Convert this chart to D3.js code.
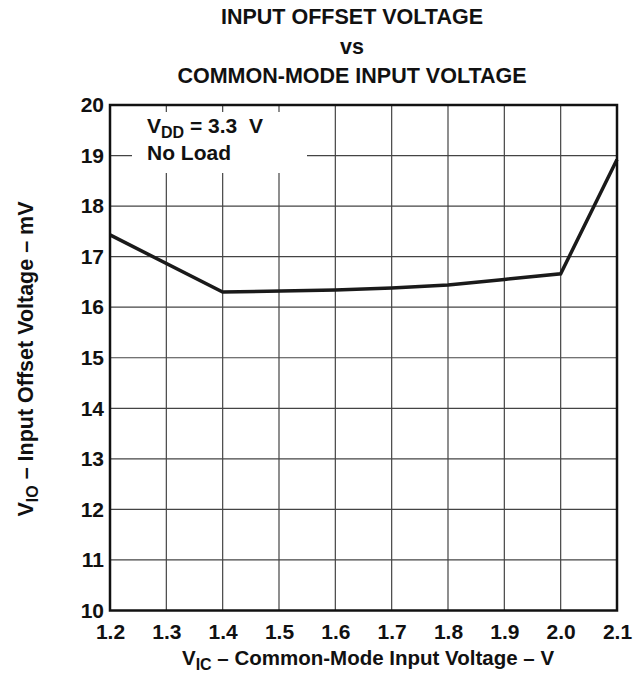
<!DOCTYPE html>
<html>
<head>
<meta charset="utf-8">
<script src="https://cdn.jsdelivr.net/npm/d3@7"></script>
<style>
  body { margin: 0; background: #fff; }
  text { font-family: "Liberation Sans", Arial, sans-serif; font-weight: bold; fill: #111; }
</style>
</head>
<body>
<svg id="chart"></svg>
<script>
// common-mode input voltage (V)
const vic = [1.2, 1.4, 1.6, 1.7, 1.8, 1.9, 2.0, 2.1];
// input offset voltage (mV)
const vio = [17.43, 16.3, 16.34, 16.38, 16.44, 16.55, 16.66, 18.92];

const xTicks = [1.2, 1.3, 1.4, 1.5, 1.6, 1.7, 1.8, 1.9, 2.0, 2.1];
const yTicks = [10, 11, 12, 13, 14, 15, 16, 17, 18, 19, 20];

const titleLines = ['INPUT OFFSET VOLTAGE', 'vs', 'COMMON-MODE INPUT VOLTAGE'];

const width = 644, height = 676;
const plotLeft = 110, plotRight = 617, plotTop = 105, plotBottom = 610.5;

const svg = d3.select('#chart')
    .attr('width', width)
    .attr('height', height);

const x = d3.scaleLinear().domain([1.2, 2.1]).range([plotLeft, plotRight]);
const y = d3.scaleLinear().domain([10, 20]).range([plotBottom, plotTop]);

// title
svg.append('g')
    .selectAll('text')
    .data(titleLines)
    .enter()
    .append('text')
    .attr('x', 352)
    .attr('y', (d, i) => 24 + i * 29.5)
    .attr('text-anchor', 'middle')
    .attr('font-size', '21.5px')
    .text(d => d);

// grid
const grid = svg.append('g')
    .attr('stroke', '#444')
    .attr('stroke-width', 1.2);

grid.selectAll('.vx')
    .data(xTicks.slice(1, -1))
    .enter()
    .append('line')
    .attr('x1', d => x(d)).attr('x2', d => x(d))
    .attr('y1', plotTop).attr('y2', plotBottom);

grid.selectAll('.hy')
    .data(yTicks.slice(1, -1))
    .enter()
    .append('line')
    .attr('x1', plotLeft).attr('x2', plotRight)
    .attr('y1', d => y(d)).attr('y2', d => y(d));

// legend box covers the grid
svg.append('rect')
    .attr('x', 132)
    .attr('y', 112)
    .attr('width', 175)
    .attr('height', 61)
    .attr('fill', '#fff');

const vdd = svg.append('text')
    .attr('x', 147)
    .attr('y', 133)
    .attr('font-size', '21px');
vdd.append('tspan').text('V');
vdd.append('tspan').attr('font-size', '16px').attr('dy', 5).text('DD');
vdd.append('tspan').attr('dy', -5).text(' = 3.3\u00a0\u00a0V');

svg.append('text')
    .attr('x', 147)
    .attr('y', 160)
    .attr('font-size', '21px')
    .text('No Load');

// curve
const line = d3.line()
    .x(d => x(d[0]))
    .y(d => y(d[1]));

svg.append('path')
    .datum(vic.map((v, i) => [v, vio[i]]))
    .attr('d', line)
    .attr('fill', 'none')
    .attr('stroke', '#1a1a1a')
    .attr('stroke-width', 3.5)
    .attr('stroke-linejoin', 'miter');

// frame
svg.append('rect')
    .attr('x', plotLeft)
    .attr('y', plotTop)
    .attr('width', plotRight - plotLeft)
    .attr('height', plotBottom - plotTop)
    .attr('fill', 'none')
    .attr('stroke', '#111')
    .attr('stroke-width', 2.5);

// axes labels
const xAxis = svg.append('g')
    .attr('transform', `translate(0,${plotBottom})`)
    .call(d3.axisBottom(x).tickValues(xTicks).tickSize(0).tickPadding(14).tickFormat(d3.format('.1f')));

const yAxis = svg.append('g')
    .attr('transform', `translate(${plotLeft},0)`)
    .call(d3.axisLeft(y).tickValues(yTicks).tickSize(0).tickPadding(6).tickFormat(d3.format('d')));

[xAxis, yAxis].forEach(a => {
    a.select('.domain').remove();
    a.attr('font-size', null).attr('font-family', null);
    a.selectAll('text')
        .attr('font-size', '21px')
        .attr('fill', '#111');
});

// x axis title
const xt = svg.append('text')
    .attr('x', 368)
    .attr('y', 665)
    .attr('text-anchor', 'middle')
    .attr('font-size', '20.5px');
xt.append('tspan').text('V');
xt.append('tspan').attr('font-size', '16px').attr('dy', 5).text('IC');
xt.append('tspan').attr('dy', -5).text(' \u2013 Common-Mode Input Voltage \u2013 V');

// y axis title
const yt = svg.append('text')
    .attr('transform', `translate(33,359) rotate(-90)`)
    .attr('text-anchor', 'middle')
    .attr('font-size', '21.5px');
yt.append('tspan').text('V');
yt.append('tspan').attr('font-size', '16px').attr('dy', 5).text('IO');
yt.append('tspan').attr('dy', -5).text(' \u2013 Input Offset Voltage \u2013 mV');
</script>
</body>
</html>
